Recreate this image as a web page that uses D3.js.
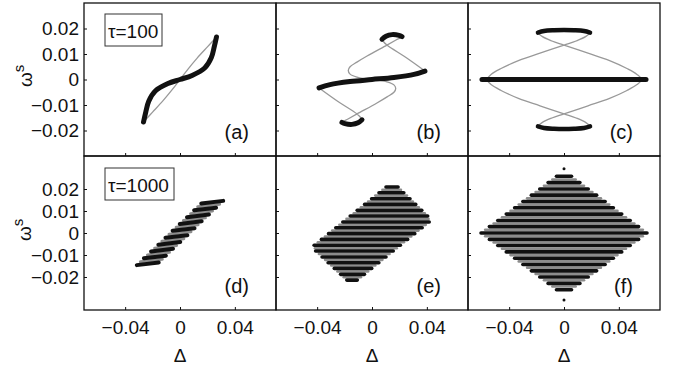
<!DOCTYPE html>
<html>
<head>
<meta charset="utf-8">
<script src="https://cdn.jsdelivr.net/npm/d3@7"></script>
<style>
  body { margin: 0; background: #fff; }
  text { font-family: "Liberation Sans", Arial, sans-serif; fill: #111; }
</style>
</head>
<body>
<svg id="chart" width="673" height="365"></svg>
<script>
// ---- data (Δ, ω^s) ----
const xTicks = [-0.04, 0, 0.04];
const yTicks = [-0.02, -0.01, 0, 0.01, 0.02];
const panelNames = ["(a)", "(b)", "(c)", "(d)", "(e)", "(f)"];
const tauLabels = ["τ=100", "τ=1000"];

// top row: thick black trajectory pieces and thin grey curves
const aBlack = [[-0.0266,-0.0167],[-0.0250,-0.0129],[-0.0228,-0.0085],[-0.0180,-0.0045],[-0.0088,-0.0016],[0,0],
  [0.0088,0.0016],[0.0180,0.0045],[0.0228,0.0085],[0.0250,0.0129],[0.0266,0.0167]];
const aGray = [[-0.0255,-0.0160],[-0.0200,-0.0128],[-0.0125,-0.0084],[-0.0060,-0.0042],[0,0],
  [0.0060,0.0042],[0.0125,0.0084],[0.0200,0.0128],[0.0255,0.0160]];

const bMain = [[-0.0386,-0.0033],[-0.0306,-0.0020],[-0.0160,-0.0008],[0,0],[0.0160,0.0008],[0.0306,0.0020],[0.0386,0.0033]];
const bBlobTop = [[0.0073,0.0158],[0.0102,0.0170],[0.0146,0.0176],[0.0197,0.0173],[0.0219,0.0168]];
const bBlobBot = [[-0.0073,-0.0158],[-0.0102,-0.0170],[-0.0146,-0.0176],[-0.0197,-0.0173],[-0.0219,-0.0168]];
const bGray = [[0.0386,0.0033],[0.0248,0.0086],[0.0109,0.0135],[0.0080,0.0151],[0.0073,0.0158],[0.0102,0.0170],
  [0.0146,0.0176],[0.0197,0.0173],[0.0219,0.0168],[0.0175,0.0155],[0.0109,0.0135],[-0.0036,0.0092],[-0.0110,0.0068],
  [-0.0160,0.0050],[-0.0173,0.0035],[-0.0160,0.0021],[-0.0110,0.0009],[-0.0050,0.0003],[0,0],[0.0050,-0.0003],
  [0.0110,-0.0009],[0.0160,-0.0021],[0.0173,-0.0035],[0.0160,-0.0050],[0.0110,-0.0068],[0.0036,-0.0092],
  [-0.0109,-0.0135],[-0.0175,-0.0155],[-0.0219,-0.0168],[-0.0197,-0.0173],[-0.0146,-0.0176],[-0.0102,-0.0170],
  [-0.0073,-0.0158],[-0.0080,-0.0151],[-0.0109,-0.0135],[-0.0248,-0.0086],[-0.0386,-0.0033]];

const cMain = [[-0.0598,0],[0.0598,0]];
const cArcTop = [[0.0190,0.0184],[0.0146,0.0190],[0.0073,0.0193],[0,0.0194],[-0.0073,0.0193],[-0.0146,0.0190],[-0.0190,0.0184]];
const cArcBot = [[0.0190,-0.0184],[0.0146,-0.0190],[0.0073,-0.0193],[0,-0.0194],[-0.0073,-0.0193],[-0.0146,-0.0190],[-0.0190,-0.0184]];
const cGray = [[-0.0565,0],[-0.0532,0.0020],[-0.0459,0.0043],[-0.0328,0.0075],[-0.0175,0.0103],[0,0.0135],[0.0088,0.0151],
  [0.0160,0.0169],[0.0190,0.0184],[0.0146,0.0190],[0.0073,0.0193],[0,0.0194],[-0.0073,0.0193],[-0.0146,0.0190],[-0.0190,0.0184],
  [-0.0160,0.0169],[-0.0088,0.0151],[0,0.0135],[0.0175,0.0103],[0.0328,0.0075],[0.0459,0.0043],[0.0532,0.0020],[0.0565,0],
  [0.0532,-0.0020],[0.0459,-0.0043],[0.0328,-0.0075],[0.0175,-0.0103],[0,-0.0135],[-0.0088,-0.0151],[-0.0160,-0.0169],
  [-0.0190,-0.0184],[-0.0146,-0.0190],[-0.0073,-0.0193],[0,-0.0194],[0.0073,-0.0193],[0.0146,-0.0190],[0.0190,-0.0184],
  [0.0160,-0.0169],[0.0088,-0.0151],[0,-0.0135],[-0.0175,-0.0103],[-0.0328,-0.0075],[-0.0459,-0.0043],[-0.0532,-0.0020],[-0.0565,0]];

// panel (d): slanted dashes [Δ1, ω1, Δ2, ω2]
const dBlack = [[-0.0315,-0.0146,-0.0155,-0.0134],[-0.0263,-0.0115,-0.0103,-0.0103],[-0.0211,-0.0084,-0.0051,-0.0072],
  [-0.0158,-0.0053,0.0002,-0.0041],[-0.0106,-0.0022,0.0054,-0.0010],[-0.0054,0.0010,0.0106,0.0022],
  [-0.0002,0.0041,0.0158,0.0053],[0.0051,0.0072,0.0211,0.0084],[0.0103,0.0103,0.0263,0.0115],[0.0155,0.0134,0.0315,0.0146]];
const dGray = [[-0.0289,-0.0131,-0.0129,-0.0119],[-0.0237,-0.0100,-0.0077,-0.0088],[-0.0185,-0.0069,-0.0025,-0.0057],
  [-0.0132,-0.0038,0.0028,-0.0026],[-0.0080,-0.0006,0.0080,0.0006],[-0.0028,0.0026,0.0132,0.0038],
  [0.0025,0.0057,0.0185,0.0069],[0.0077,0.0088,0.0237,0.0100],[0.0129,0.0119,0.0289,0.0131]];

// panels (e), (f): horizontal stripes [ω^s, Δ from, Δ to]
const eBlack = [[0.0209,0.0102,0.0190],[0.0183,0.0051,0.0232],[0.0156,-0.0003,0.0277],[0.0130,-0.0054,0.0319],
  [0.0103,-0.0108,0.0363],[0.0077,-0.0159,0.0406],[0.0050,-0.0213,0.0417],[0.0024,-0.0264,0.0366],[-0.0003,-0.0317,0.0312],
  [-0.0029,-0.0369,0.0260],[-0.0056,-0.0422,0.0207],[-0.0082,-0.0411,0.0155],[-0.0109,-0.0364,0.0102],[-0.0135,-0.0320,0.0050],
  [-0.0161,-0.0275,-0.0002],[-0.0188,-0.0229,-0.0055],[-0.0214,-0.0184,-0.0107]];
const eGray = [[0.0196,0.0076,0.0211],[0.0170,0.0024,0.0255],[0.0143,-0.0028,0.0298],[0.0117,-0.0081,0.0341],
  [0.0090,-0.0133,0.0385],[0.0064,-0.0186,0.0412],[0.0037,-0.0238,0.0392],[0.0011,-0.0290,0.0339],[-0.0016,-0.0343,0.0286],
  [-0.0042,-0.0395,0.0233],[-0.0069,-0.0416,0.0181],[-0.0095,-0.0387,0.0128],[-0.0122,-0.0342,0.0076],[-0.0148,-0.0297,0.0024],
  [-0.0175,-0.0252,-0.0028],[-0.0201,-0.0206,-0.0081]];

const fBlack = [[0.0258,-0.0055,0.0055],[0.0229,-0.0116,0.0116],[0.0200,-0.0177,0.0177],[0.0172,-0.0238,0.0238],
  [0.0143,-0.0300,0.0300],[0.0115,-0.0360,0.0360],[0.0086,-0.0421,0.0421],[0.0057,-0.0483,0.0483],[0.0029,-0.0544,0.0544],
  [0,-0.0605,0.0605],[-0.0029,-0.0544,0.0544],[-0.0057,-0.0483,0.0483],[-0.0086,-0.0421,0.0421],[-0.0115,-0.0360,0.0360],
  [-0.0143,-0.0300,0.0300],[-0.0172,-0.0238,0.0238],[-0.0200,-0.0177,0.0177],[-0.0229,-0.0116,0.0116],[-0.0258,-0.0055,0.0055]];
const fGray = [[0.02435,-0.0085,0.0085],[0.02145,-0.0146,0.0146],[0.0186,-0.0207,0.0207],[0.01575,-0.0269,0.0269],
  [0.0129,-0.0330,0.0330],[0.01005,-0.0390,0.0390],[0.00715,-0.0452,0.0452],[0.0043,-0.0513,0.0513],[0.00145,-0.0575,0.0575],
  [-0.00145,-0.0575,0.0575],[-0.0043,-0.0513,0.0513],[-0.00715,-0.0452,0.0452],[-0.01005,-0.0390,0.0390],[-0.0129,-0.0330,0.0330],
  [-0.01575,-0.0269,0.0269],[-0.0186,-0.0207,0.0207],[-0.02145,-0.0146,0.0146],[-0.02435,-0.0085,0.0085]];
const fDots = [[0, 0.0292], [0, -0.0305]];

// ---- layout ----
const cols = [84, 276, 468, 660];
const rows = [3, 156, 310];
const yDomains = [[-0.03, 0.03], [-0.035, 0.035]];
const GREY = "#999";

const svg = d3.select("#chart");
const fmt = d => d === 0 ? "0" : (d < 0 ? "\u2212" : "") + Math.abs(d).toFixed(2);

function panel(r, c) {
  const x = d3.scaleLinear().domain([-0.07, 0.07]).range([cols[c], cols[c + 1]]);
  const y = d3.scaleLinear().domain(yDomains[r]).range([rows[r + 1], rows[r]]);
  const g = svg.append("g");
  const clip = "clip" + r + c;
  svg.append("clipPath").attr("id", clip).append("rect")
    .attr("x", cols[c]).attr("y", rows[r]).attr("width", cols[c + 1] - cols[c]).attr("height", rows[r + 1] - rows[r]);
  const plot = g.append("g").attr("clip-path", `url(#${clip})`);
  return { x, y, g, plot, r, c };
}

function curve(p, pts, color, w) {
  const line = d3.line().x(d => p.x(d[0])).y(d => p.y(d[1])).curve(d3.curveCatmullRom.alpha(0.5));
  p.plot.append("path").attr("d", line(pts)).attr("fill", "none")
    .attr("stroke", color).attr("stroke-width", w).attr("stroke-linecap", "round").attr("stroke-linejoin", "round");
}

function stripes(p, rowsData, color, w) {
  p.plot.append("g").selectAll("line").data(rowsData).join("line")
    .attr("x1", d => p.x(d[1])).attr("x2", d => p.x(d[2]))
    .attr("y1", d => p.y(d[0])).attr("y2", d => p.y(d[0]))
    .attr("stroke", color).attr("stroke-width", w).attr("stroke-linecap", "round");
}

function dashes(p, segs, color, w) {
  p.plot.append("g").selectAll("line").data(segs).join("line")
    .attr("x1", d => p.x(d[0])).attr("y1", d => p.y(d[1]))
    .attr("x2", d => p.x(d[2])).attr("y2", d => p.y(d[3]))
    .attr("stroke", color).attr("stroke-width", w).attr("stroke-linecap", "round");
}

function frame(p) {
  const { x, y, g, r, c } = p;
  const ax = g.append("g").attr("transform", `translate(${cols[c]},0)`)
    .call(d3.axisLeft(y).tickValues(yTicks).tickSize(-3).tickPadding(5).tickFormat(c === 0 ? fmt : ""));
  const bx = g.append("g").attr("transform", `translate(0,${rows[r + 1]})`)
    .call(d3.axisBottom(x).tickValues(xTicks).tickSize(-3).tickPadding(11).tickFormat(r === 1 ? fmt : ""));
  [ax, bx].forEach(a => {
    a.select(".domain").remove();
    a.selectAll("text").style("font-size", "19px").style("font-family", '"Liberation Sans", Arial, sans-serif').attr("fill", "#111");
    a.selectAll("line").attr("stroke", "#111");
  });
  g.append("rect").attr("x", cols[c]).attr("y", rows[r])
    .attr("width", cols[c + 1] - cols[c]).attr("height", rows[r + 1] - rows[r])
    .attr("fill", "none").attr("stroke", "#111").attr("stroke-width", 1.3);
  g.append("text").attr("x", cols[c + 1] - 27).attr("y", rows[r + 1] - 17)
    .attr("text-anchor", "end").style("font-size", "20px").text(panelNames[r * 3 + c]);
}

// top row
const pa = panel(0, 0), pb = panel(0, 1), pc = panel(0, 2);
curve(pa, aGray, GREY, 1.3);
curve(pa, aBlack, "#111", 5);
curve(pb, bGray, GREY, 1.3);
curve(pb, bMain, "#111", 5);
curve(pb, bBlobTop, "#111", 5);
curve(pb, bBlobBot, "#111", 5);
curve(pc, cGray, GREY, 1.3);
curve(pc, cMain, "#111", 5);
curve(pc, cArcTop, "#111", 4.5);
curve(pc, cArcBot, "#111", 4.5);

// bottom row
const pd = panel(1, 0), pe = panel(1, 1), pf = panel(1, 2);
dashes(pd, dGray, "#8c8c8c", 3);
dashes(pd, dBlack, "#111", 4);
stripes(pe, eGray, "#8c8c8c", 2.6);
stripes(pe, eBlack, "#111", 3.6);
stripes(pf, fGray, "#8c8c8c", 2.6);
stripes(pf, fBlack, "#111", 3.6);
pf.plot.selectAll("circle").data(fDots).join("circle")
  .attr("cx", d => pf.x(d[0])).attr("cy", d => pf.y(d[1])).attr("r", 1.5).attr("fill", "#111");

[pa, pb, pc, pd, pe, pf].forEach(frame);

// τ boxes
[[105, 14, 57, 32, 38], [105, 168, 69, 32, 192]].forEach((b, i) => {
  svg.append("rect").attr("x", b[0]).attr("y", b[1]).attr("width", b[2]).attr("height", b[3])
    .attr("fill", "#fff").attr("stroke", "#333").attr("stroke-width", 1);
  svg.append("text").attr("x", b[0] + 3).attr("y", b[4]).style("font-size", "19px").text(tauLabels[i]);
});

// axis titles
[[32, 87], [31, 241]].forEach(t => {
  const tx = svg.append("text").attr("transform", `translate(${t[0]},${t[1]}) rotate(-90)`).style("font-size", "19px");
  tx.append("tspan").text("ω");
  tx.append("tspan").attr("dy", -8).style("font-size", "15px").text("s");
});
[0, 1, 2].forEach(c => {
  svg.append("text").attr("x", (cols[c] + cols[c + 1]) / 2).attr("y", 362)
    .attr("text-anchor", "middle").style("font-size", "19px").text("Δ");
});
</script>
</body>
</html>
